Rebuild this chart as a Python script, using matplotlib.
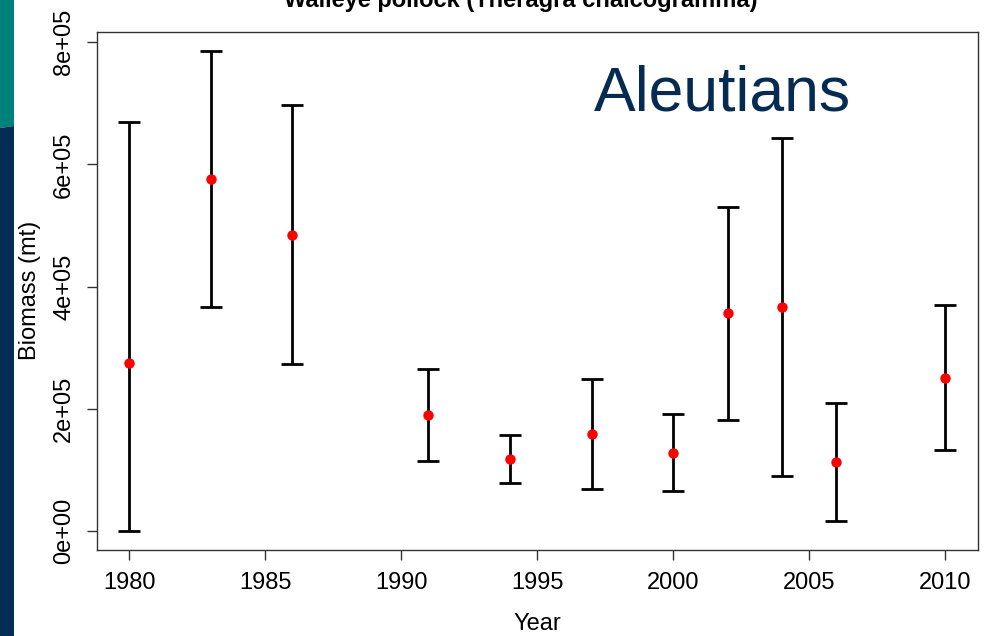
import matplotlib
matplotlib.use("Agg")
import matplotlib.pyplot as plt
from matplotlib.patches import Polygon

plt.rcParams['font.family'] = ['Liberation Sans', 'DejaVu Sans']

years = [1980, 1983, 1986, 1991, 1994, 1997, 2000, 2002, 2004, 2006, 2010]
biomass = [2.75e5, 5.76e5, 4.84e5, 1.90e5, 1.18e5, 1.59e5, 1.28e5, 3.57e5, 3.66e5, 1.13e5, 2.51e5]
upper = [6.69e5, 7.86e5, 6.98e5, 2.65e5, 1.575e5, 2.49e5, 1.92e5, 5.31e5, 6.43e5, 2.10e5, 3.70e5]
lower = [0.0, 3.66e5, 2.73e5, 1.14e5, 0.78e5, 0.69e5, 0.65e5, 1.82e5, 0.90e5, 0.16e5, 1.33e5]
xticks = [1980, 1985, 1990, 1995, 2000, 2005, 2010]
yticks = [0, 2e5, 4e5, 6e5, 8e5]
ytick_labels = ["0e+00", "2e+05", "4e+05", "6e+05", "8e+05"]

W, H = 990, 636
fig = plt.figure(figsize=(W / 100, H / 100), dpi=100)

# left decorative strip
fig.patches.append(Polygon([[0, 1], [14 / W, 1], [14 / W, 1 - 126 / H], [0, 1 - 128 / H]],
                           closed=True, transform=fig.transFigure, facecolor='#00807b',
                           edgecolor='none', zorder=0))
fig.patches.append(Polygon([[0, 0], [14 / W, 0], [14 / W, 1 - 126 / H], [0, 1 - 128 / H]],
                           closed=True, transform=fig.transFigure, facecolor='#032d55',
                           edgecolor='none', zorder=0))

ax = fig.add_axes([96.7 / W, 1 - 550 / H, (977.7 - 96.7) / W, (550 - 31.7) / H])

yerr = [[b - l for b, l in zip(biomass, lower)], [u - b for b, u in zip(biomass, upper)]]
ax.errorbar(years, biomass, yerr=yerr, fmt='none', ecolor='black', elinewidth=2.0,
            capsize=7.8, capthick=2.0, zorder=2)
ax.plot(years, biomass, 'o', color='red', markersize=7.5, markeredgewidth=0, zorder=3)

ax.set_xlim(1978.8, 2011.2)
ax.set_ylim(-0.3144e5, 8.174e5)
ax.set_xticks(xticks)
ax.set_xticklabels([str(x) for x in xticks], fontsize=17)
ax.set_yticks(yticks)
ax.set_yticklabels(ytick_labels, fontsize=17, rotation=90, va='center')

for s in ax.spines.values():
    s.set_linewidth(1.0)
    s.set_color('#333333')
ax.tick_params(axis='both', length=7.5, width=1.0, color='#333333')
ax.tick_params(axis='x', pad=8)
ax.tick_params(axis='y', pad=8)

ax.set_xlabel('Year', fontsize=17, labelpad=14)
ax.set_ylabel('Biomass (mt)', fontsize=17, labelpad=9)

ax.text(0.71, 0.847, 'Aleutians', transform=ax.transAxes, fontsize=45,
        color='#062b52', ha='center', va='baseline')

fig.text(521 / W, 1 - 7 / H, 'Walleye pollock (Theragra chalcogramma)', fontsize=17,
         fontweight='bold', ha='center', va='baseline', color='black')

fig.savefig('out.png', dpi=100)
